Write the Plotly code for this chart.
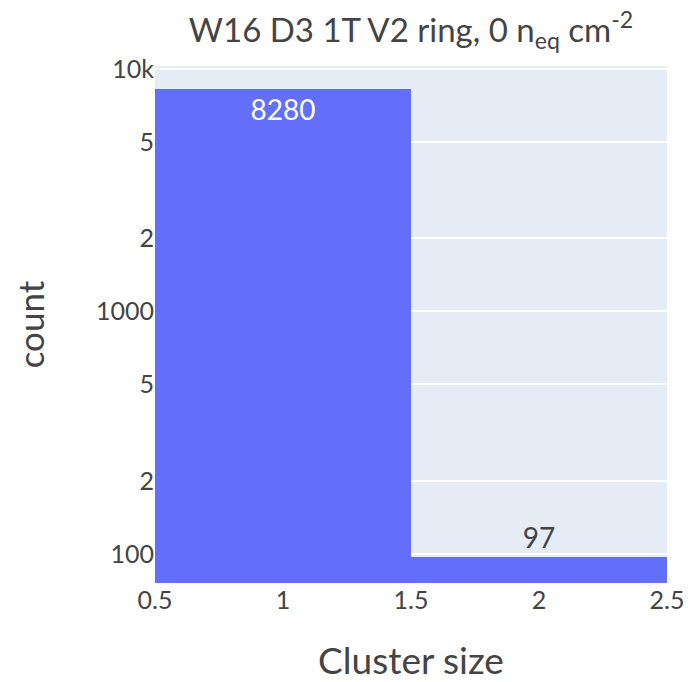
import plotly.graph_objects as go

# Cluster-size histogram (log counts)
cluster_size = [1, 2]
counts = [8280, 97]
title_text = "W16 D3 1T V2 ring, 0 n<sub>eq</sub> cm<sup>-2</sup>"

y_tickvals = [100, 200, 500, 1000, 2000, 5000, 10000]
y_ticktext = ["100", "2", "5", "1000", "2", "5", "10k"]
x_tickvals = [0.5, 1, 1.5, 2, 2.5]

FONT = "Lato"

fig = go.Figure(
    go.Bar(
        x=cluster_size,
        y=counts,
        width=1,
        marker=dict(color="#636efa", line=dict(width=0)),
        text=counts,
        textposition="auto",
        textfont=dict(size=28, family=FONT),
        insidetextfont=dict(color="white"),
        outsidetextfont=dict(color="#444"),
        cliponaxis=False,
    )
)

fig.update_layout(
    width=692,
    height=682,
    template="plotly",
    font=dict(family=FONT, size=25, color="#444"),
    title=dict(text=title_text, x=0.5, xref="paper", xanchor="center",
               y=0.972, yref="container", font=dict(size=33)),
    margin=dict(l=155, r=25, t=66, b=99, autoexpand=False),
    bargap=0,
    showlegend=False,
    plot_bgcolor="#e5ecf6",
    paper_bgcolor="white",
)
fig.update_xaxes(
    title=dict(text="Cluster size", font=dict(size=37), standoff=36),
    range=[0.5, 2.5], tickvals=x_tickvals, ticktext=["0.5", "1", "1.5", "2", "2.5"],
    showgrid=False, zeroline=False, automargin=False,
)
fig.update_yaxes(
    title=dict(text="count", font=dict(size=35), standoff=40),
    type="log", range=[1.88, 4.012],
    tickvals=y_tickvals, ticktext=y_ticktext,
    gridcolor="white", gridwidth=2, automargin=False,
)

fig.write_html("out.html")
